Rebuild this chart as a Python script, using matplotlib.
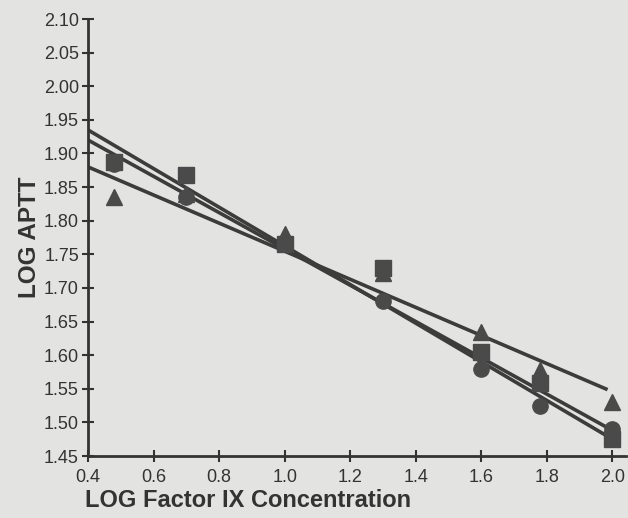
import numpy as np
import matplotlib
matplotlib.use('Agg')
import matplotlib.pyplot as plt

# log factor IX concentration (3,5,10,20,40,60,100 %)
log_conc = [0.48, 0.70, 1.0, 1.30, 1.60, 1.78, 2.0]

circles = [1.885, 1.835, 1.765, 1.680, 1.580, 1.525, 1.490]
squares = [1.888, 1.868, 1.765, 1.730, 1.605, 1.558, 1.475]
triangles = [1.835, 1.840, 1.780, 1.722, 1.635, 1.578, 1.530]

# regression lines: value at x=0.4, slope, end x
fit_start = [1.935, 1.920, 1.880]
fit_slope = [-0.2875, -0.270, -0.209]
fit_end = [2.0, 2.0, 1.98]

bg = '#e3e3e1'
ink = '#4a4a4a'
plt.rcParams['font.family'] = ['Liberation Sans', 'DejaVu Sans']

fig = plt.figure(figsize=(6.28, 5.18), dpi=100, facecolor=bg)
ax = fig.add_axes([88/628, 1-456/518, (613-88)/628 + 0.02, (456-19)/518])
ax.set_facecolor(bg)

for b, m, xe in zip(fit_start, fit_slope, fit_end):
    xs = np.array([0.4, xe])
    ax.plot(xs, b + m*(xs-0.4), color='#3c3c3c', lw=2.6, zorder=2)

ax.plot(log_conc, triangles, '^', ms=11, color=ink, mec=ink, zorder=3)
ax.plot(log_conc, circles, 'o', ms=11, color=ink, mec=ink, zorder=3)
ax.plot(log_conc, squares, 's', ms=11, color=ink, mec=ink, zorder=3)

ax.set_xlim(0.4, 2.04)
ax.set_ylim(1.45, 2.10)
ax.set_xticks([0.4, 0.6, 0.8, 1.0, 1.2, 1.4, 1.6, 1.8, 2.0])
ax.set_yticks(np.round(np.arange(1.45, 2.101, 0.05), 2))
ax.xaxis.set_major_formatter(matplotlib.ticker.FormatStrFormatter('%.1f'))
ax.yaxis.set_major_formatter(matplotlib.ticker.FormatStrFormatter('%.2f'))
for s in ['top', 'right']:
    ax.spines[s].set_visible(False)
for s in ['left', 'bottom']:
    ax.spines[s].set_linewidth(2)
    ax.spines[s].set_color('#333333')
ax.tick_params(direction='inout', length=9, width=1.5, colors='#333333',
               labelsize=13, pad=2)
ax.tick_params(axis='x', pad=5)

ax.set_ylabel('LOG APTT', fontsize=17.5, fontweight='bold', color='#333333', labelpad=2)
ax.set_xlabel('LOG Factor IX Concentration', fontsize=17, fontweight='bold',
              color='#333333', loc='left', labelpad=4)
ax.xaxis.set_label_coords(-0.005, -0.075)

fig.savefig('out.png', dpi=100, facecolor=bg)
